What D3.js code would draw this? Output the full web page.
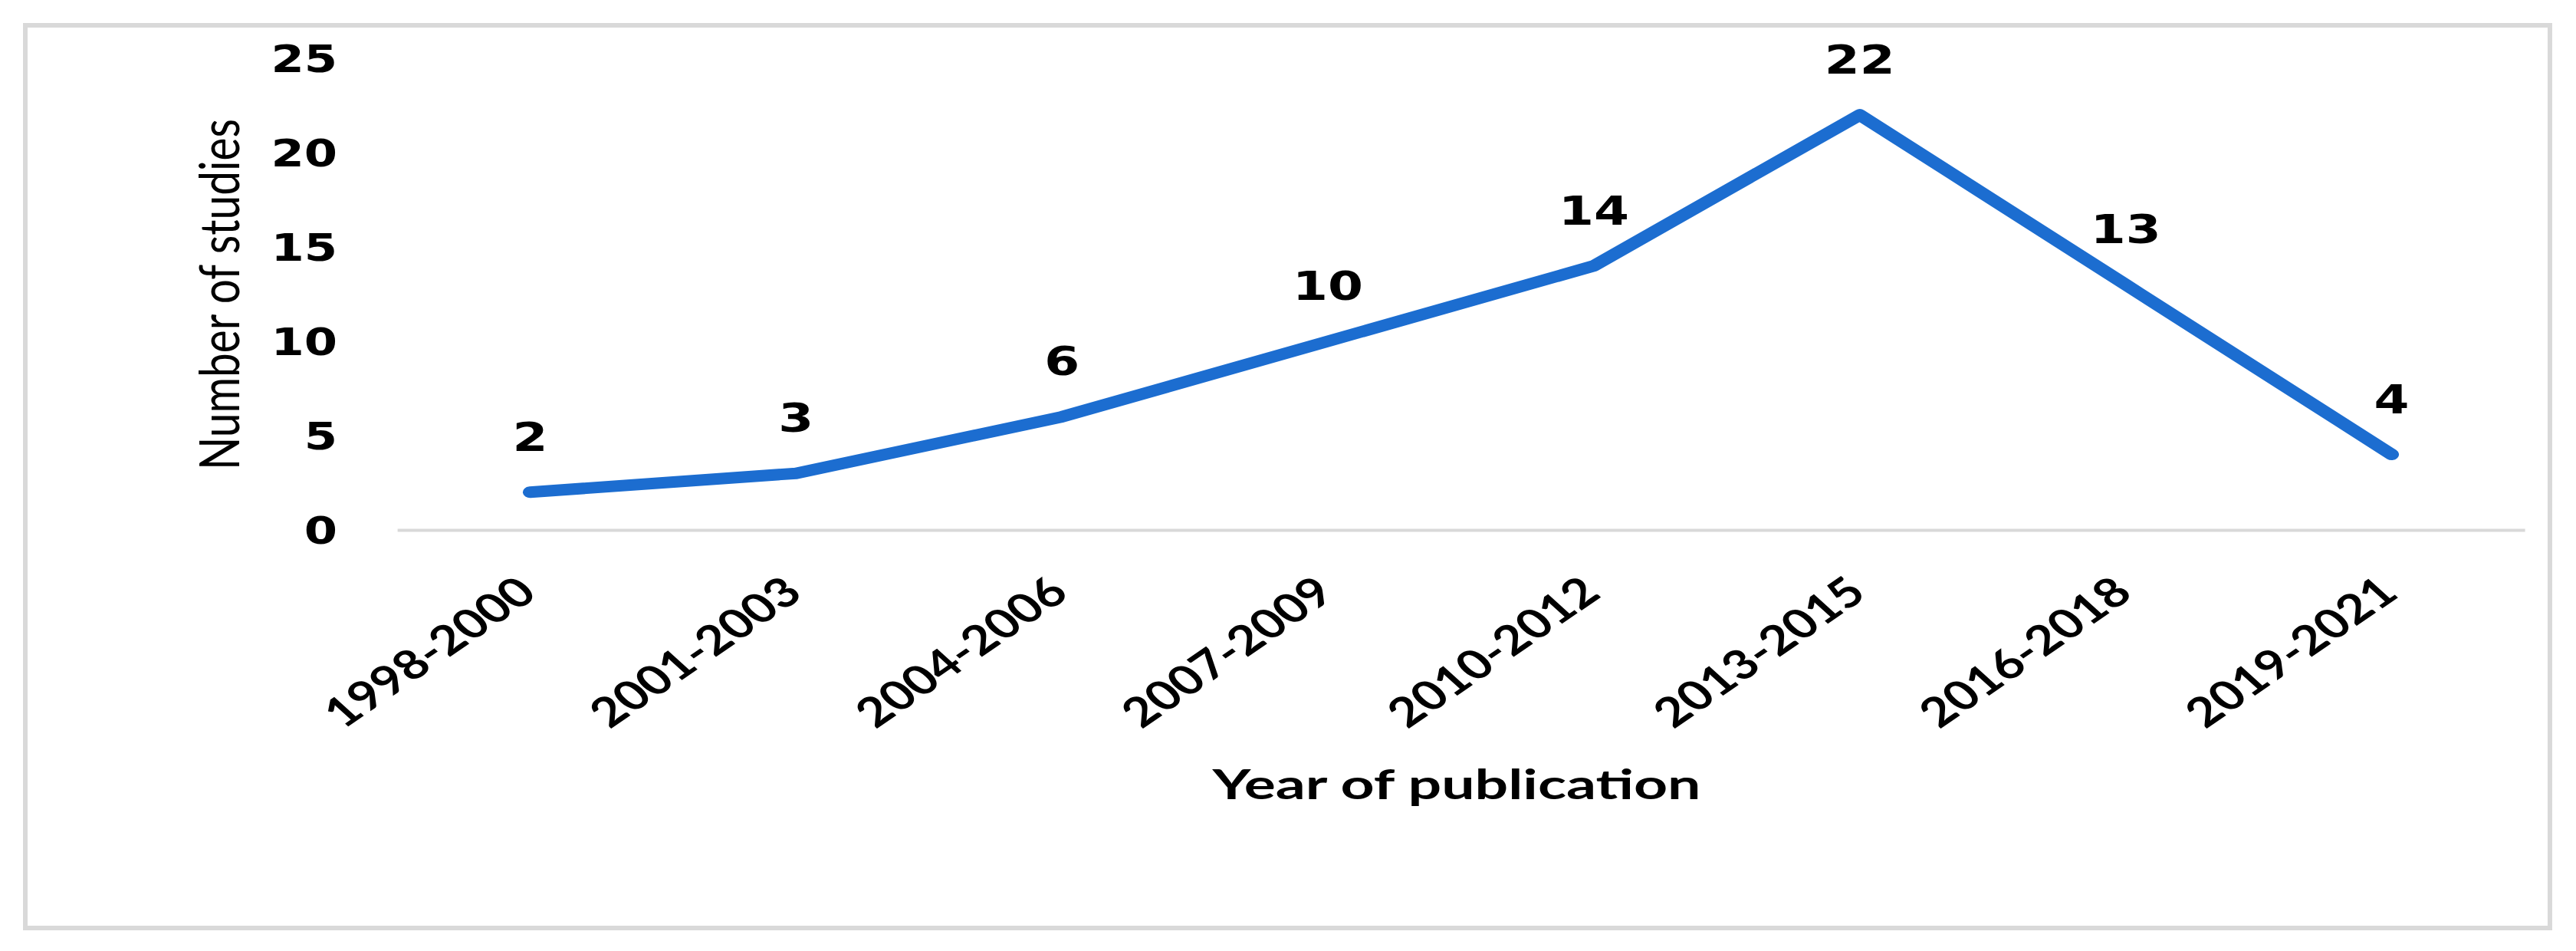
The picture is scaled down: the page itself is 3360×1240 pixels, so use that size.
<!DOCTYPE html>
<html>
<head>
<meta charset="utf-8">
<script src="https://cdn.jsdelivr.net/npm/d3@7"></script>
<style>
  body { margin: 0; background: #fff; }
  svg { display: block; }
</style>
</head>
<body>
<div id="chart"></div>
<script>
// data
var periods = ["1998-2000", "2001-2003", "2004-2006", "2007-2009", "2010-2012", "2013-2015", "2016-2018", "2019-2021"];
var studies = [2, 3, 6, 10, 14, 22, 13, 4];
var yTicks = [0, 5, 10, 15, 20, 25];

var W = 3360, H = 1240;
// the picture is stretched sideways, so draw in a narrower space and scale x
var S = 1.27;

var svg = d3.select("#chart").append("svg")
  .attr("width", W)
  .attr("height", H);

// outer frame
svg.append("rect")
  .attr("x", 33).attr("y", 33)
  .attr("width", 3293).attr("height", 1177)
  .attr("fill", "#fff")
  .attr("stroke", "#d9d9d9")
  .attr("stroke-width", 6);

var g = svg.append("g").attr("transform", "scale(" + S + ",1)");

var x = d3.scaleBand()
  .domain(periods)
  .range([518 / S, 3293 / S]);

var y = d3.scaleLinear()
  .domain([0, 25])
  .range([691, 76]);

function cx(d) { return x(d) + x.bandwidth() / 2; }

// x axis
var xAxis = g.append("g")
  .attr("transform", "translate(0," + y(0) + ")")
  .call(d3.axisBottom(x).tickSize(0).tickSizeOuter(0));

xAxis.select(".domain")
  .attr("stroke", "#d9d9d9")
  .attr("stroke-width", 4);

xAxis.selectAll("text")
  .attr("y", 0)
  .attr("dy", 0)
  .attr("transform", "translate(9,86) rotate(-41)")
  .attr("text-anchor", "end")
  .attr("fill", "#000")
  .style("font-family", "Lato, 'Open Sans', sans-serif")
  .style("font-weight", "bold")
  .style("font-size", "53px");

// y axis, labels only
var yAxis = g.append("g")
  .attr("transform", "translate(" + (440 / S) + ",0)")
  .call(d3.axisLeft(y).tickValues(yTicks).tickSize(0).tickPadding(0));

yAxis.select(".domain").remove();
yAxis.selectAll("text")
  .attr("dy", "0.36em")
  .attr("fill", "#000")
  .style("font-family", "'DejaVu Sans', Verdana, sans-serif")
  .style("font-weight", "bold")
  .style("font-size", "49px");

// line
var line = d3.line()
  .x(function (d, i) { return cx(periods[i]); })
  .y(function (d) { return y(d); });

g.append("path")
  .datum(studies)
  .attr("d", line)
  .attr("fill", "none")
  .attr("stroke", "#1c6dd0")
  .attr("stroke-width", 15)
  .attr("stroke-linecap", "round")
  .attr("stroke-linejoin", "round");

// data labels
g.selectAll(".dlabel")
  .data(studies)
  .enter()
  .append("text")
  .attr("class", "dlabel")
  .attr("x", function (d, i) { return cx(periods[i]); })
  .attr("y", function (d) { return y(d) - 54; })
  .attr("text-anchor", "middle")
  .attr("fill", "#000")
  .style("font-family", "'DejaVu Sans', Verdana, sans-serif")
  .style("font-weight", "bold")
  .style("font-size", "52px")
  .text(function (d) { return d; });

// axis titles
g.append("text")
  .attr("x", 1900 / S)
  .attr("y", 1042)
  .attr("text-anchor", "middle")
  .attr("textLength", 637 / S)
  .attr("lengthAdjust", "spacingAndGlyphs")
  .attr("fill", "#000")
  .style("font-family", "Lato, 'Open Sans', sans-serif")
  .style("font-weight", "bold")
  .style("font-size", "54px")
  .text("Year of publication");

g.append("text")
  .attr("transform", "translate(" + (312 / S) + ",384) rotate(-90)")
  .attr("text-anchor", "middle")
  .attr("textLength", 458)
  .attr("lengthAdjust", "spacingAndGlyphs")
  .attr("fill", "#000")
  .style("font-family", "Lato, 'Open Sans', sans-serif")
  .style("font-size", "57px")
  .text("Number of studies");
</script>
</body>
</html>
